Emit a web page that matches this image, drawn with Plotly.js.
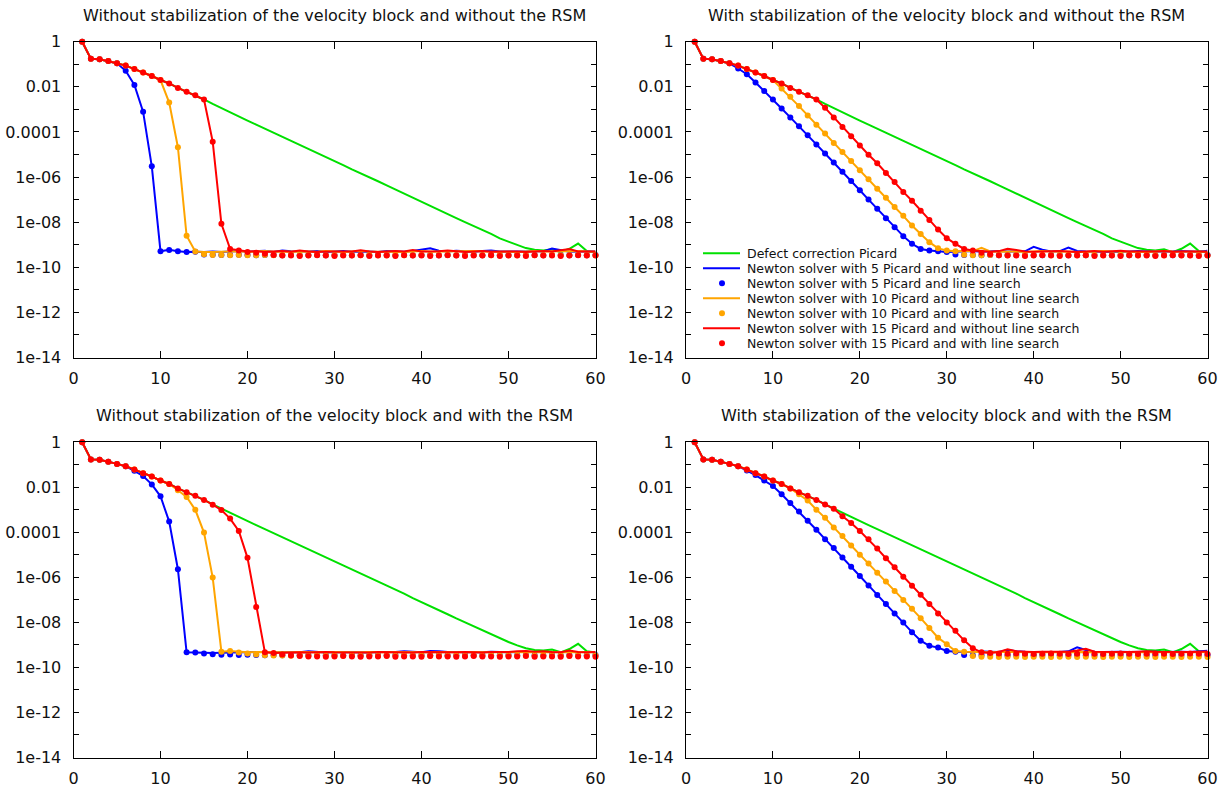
<!DOCTYPE html>
<html>
<head>
<meta charset="utf-8">
<script src="https://cdn.plot.ly/plotly-3.0.1.min.js"></script>
<style>html,body{margin:0;padding:0;background:#fff;}#chart{width:1230px;height:787px;}</style>
</head>
<body>
<div id="chart"></div>
<script>
// ---------- data ----------
const iterations = [1,2,3,4,5,6,7,8,9,10,11,12,13,14,15,16,17,18,19,20,21,22,23,24,25,26,27,28,29,30,
  31,32,33,34,35,36,37,38,39,40,41,42,43,44,45,46,47,48,49,50,51,52,53,54,55,56,57,58,59,60];

const panelTitles = [
  "Without stabilization of the velocity block and without the RSM",
  "With stabilization of the velocity block and without the RSM",
  "Without stabilization of the velocity block and with the RSM",
  "With stabilization of the velocity block and with the RSM"
];

const seriesNames = [
  "Defect correction Picard",
  "Newton solver with 5 Picard and without line search",
  "Newton solver with 5 Picard and line search",
  "Newton solver with 10 Picard and without line search",
  "Newton solver with 10 Picard and with line search",
  "Newton solver with 15 Picard and without line search",
  "Newton solver with 15 Picard and with line search"
];

const xTickValues = [0,10,20,30,40,50,60];
const yTickValues = [1,1e-1,1e-2,1e-3,1e-4,1e-5,1e-6,1e-7,1e-8,1e-9,1e-10,1e-11,1e-12,1e-13,1e-14];
const yTickLabels = ["1","","0.01","","0.0001","","1e-06","","1e-08","","1e-10","","1e-12","","1e-14"];

// Defect correction Picard (same in all panels)
const picard = [1,0.174,0.166,0.138,0.110,0.087,0.0617,0.0427,0.0302,0.020,
  0.0141,8.9e-3,6.0e-3,4.2e-3,2.75e-3,1.74e-3,1.12e-3,7.4e-4,4.9e-4,3.2e-4,
  2.1e-4,1.4e-4,9.3e-5,6.2e-5,4.1e-5,2.7e-5,1.8e-5,1.2e-5,7.8e-6,5.1e-6,
  3.4e-6,2.2e-6,1.5e-6,9.8e-7,6.5e-7,4.3e-7,2.8e-7,1.9e-7,1.2e-7,8.1e-8,
  5.4e-8,3.5e-8,2.3e-8,1.5e-8,1.0e-8,6.8e-9,4.5e-9,3.0e-9,1.9e-9,1.35e-9,
  9.5e-10,7.1e-10,6.0e-10,5.6e-10,6.3e-10,4.7e-10,6.6e-10,1.12e-9,5.2e-10,4.6e-10];

// ---- Panel 1: without stabilization, without RSM ----
const p1Blue = picard.slice(0,5).concat([5.1e-2,1.2e-2,7.9e-4,3.0e-6,5.1e-10,5.9e-10,5.1e-10,4.7e-10,
  4.9e-10,4.7e-10,5.0e-10,4.8e-10,5.0e-10,5.2e-10,4.9e-10,5.0e-10,5.4e-10,4.8e-10,
  5.6e-10,5.1e-10,4.9e-10,5.0e-10,5.2e-10,4.8e-10,5.0e-10,5.3e-10,4.9e-10,5.1e-10,
  5.0e-10,4.8e-10,5.2e-10,5.0e-10,4.9e-10,5.3e-10,6.2e-10,7.0e-10,5.4e-10,5.0e-10,
  5.4e-10,5.1e-10,4.9e-10,5.2e-10,5.5e-10,5.0e-10,4.9e-10,5.1e-10,5.0e-10,5.3e-10,
  5.0e-10,6.8e-10,5.6e-10,4.9e-10,5.0e-10,5.1e-10,5.0e-10]);
const p1BlueLS = p1Blue.slice(0,14).concat([3.7e-10,3.6e-10,3.5e-10,3.5e-10,3.6e-10,3.5e-10,3.4e-10,3.5e-10,3.5e-10,3.4e-10,
  3.5e-10,3.4e-10,3.5e-10,3.5e-10,3.4e-10,3.5e-10,3.5e-10,3.4e-10,3.5e-10,3.4e-10,
  3.5e-10,3.5e-10,3.4e-10,3.5e-10,3.4e-10,3.5e-10,3.5e-10,3.4e-10,3.5e-10,3.4e-10,
  3.5e-10,3.5e-10,3.4e-10,3.5e-10,3.4e-10,3.5e-10,3.5e-10,3.4e-10,3.5e-10,3.4e-10,
  3.5e-10,3.5e-10,3.4e-10,3.5e-10,3.4e-10,3.5e-10]);
const p1Orange = picard.slice(0,10).concat([2.0e-3,2.1e-5,2.5e-9,5.0e-10,4.7e-10,
  4.8e-10,5.0e-10,4.9e-10,5.1e-10,4.8e-10,5.0e-10,5.2e-10,4.9e-10,5.0e-10,4.8e-10,
  5.1e-10,5.0e-10,4.9e-10,5.2e-10,5.0e-10,4.8e-10,5.0e-10,5.3e-10,5.0e-10,4.9e-10,
  5.1e-10,5.0e-10,4.8e-10,5.0e-10,5.2e-10,4.9e-10,5.0e-10,5.1e-10,4.9e-10,5.0e-10,
  5.2e-10,5.0e-10,4.9e-10,5.1e-10,5.0e-10,4.8e-10,5.0e-10,5.2e-10,5.0e-10,5.1e-10,
  4.9e-10,5.0e-10,5.3e-10,5.0e-10,4.9e-10]);
const p1OrangeLS = p1Orange.slice(0,14).concat([3.8e-10,3.5e-10,3.5e-10,3.4e-10,3.5e-10,3.4e-10,3.4e-10,3.5e-10,3.4e-10,3.4e-10,
  3.5e-10,3.4e-10,3.4e-10,3.5e-10,3.4e-10,3.4e-10,3.5e-10,3.4e-10,3.4e-10,3.5e-10,
  3.4e-10,3.4e-10,3.5e-10,3.4e-10,3.4e-10,3.5e-10,3.4e-10,3.4e-10,3.5e-10,3.4e-10,
  3.4e-10,3.5e-10,3.4e-10,3.4e-10,3.5e-10,3.4e-10,3.4e-10,3.5e-10,3.4e-10,3.4e-10,
  3.5e-10,3.4e-10,3.4e-10,3.5e-10,3.4e-10,3.4e-10]);
const p1Red = picard.slice(0,15).concat([3.7e-5,8.5e-9,6.5e-10,5.5e-10,
  5.0e-10,5.1e-10,4.8e-10,5.0e-10,5.2e-10,4.9e-10,5.6e-10,5.0e-10,4.8e-10,5.0e-10,
  5.1e-10,4.9e-10,5.0e-10,5.7e-10,5.0e-10,4.8e-10,5.0e-10,5.2e-10,5.0e-10,5.8e-10,
  5.0e-10,4.9e-10,5.1e-10,5.6e-10,5.0e-10,4.8e-10,5.0e-10,5.2e-10,4.9e-10,5.0e-10,
  5.1e-10,5.0e-10,4.8e-10,5.0e-10,5.3e-10,5.0e-10,5.6e-10,6.5e-10,5.0e-10,4.9e-10,
  5.0e-10]);
const p1RedLS = p1Red.slice(0,19).concat([4.7e-10,4.4e-10,4.0e-10,3.5e-10,3.3e-10,3.3e-10,3.2e-10,3.3e-10,3.4e-10,3.3e-10,
  3.2e-10,3.3e-10,3.3e-10,3.4e-10,3.2e-10,3.3e-10,3.3e-10,3.2e-10,3.4e-10,3.3e-10,
  3.3e-10,3.2e-10,3.3e-10,3.4e-10,3.3e-10,3.2e-10,3.3e-10,3.3e-10,3.4e-10,3.2e-10,
  3.3e-10,3.3e-10,3.2e-10,3.4e-10,3.3e-10,3.3e-10,3.2e-10,3.3e-10,3.4e-10,3.3e-10,
  3.3e-10]);

// ---- Panel 2: with stabilization, without RSM ----
const p2Blue = picard.slice(0,5).concat([6.5e-2,3.6e-2,1.55e-2,6.6e-3,2.75e-3,1.1e-3,4.4e-4,1.8e-4,7.1e-5,2.8e-5,
  1.1e-5,4.4e-6,1.7e-6,6.6e-7,2.6e-7,1.0e-7,3.9e-8,1.5e-8,6.0e-9,2.4e-9,
  1.1e-9,6.5e-10,5.5e-10,5.1e-10,4.7e-10,
  4.9e-10,5.0e-10,5.2e-10,4.9e-10,5.0e-10,5.3e-10,5.0e-10,4.9e-10,5.1e-10,8.0e-10,
  6.0e-10,5.0e-10,5.2e-10,7.5e-10,5.3e-10,5.0e-10,4.9e-10,5.1e-10,5.0e-10,4.8e-10,
  5.0e-10,5.2e-10,5.0e-10,4.9e-10,5.1e-10,5.0e-10,5.3e-10,5.0e-10,4.9e-10,5.4e-10]);
const p2BlueLS = p2Blue.slice(0,30).concat([3.7e-10,3.5e-10,3.5e-10,3.4e-10,3.5e-10,3.4e-10,3.5e-10,3.5e-10,3.4e-10,3.5e-10,
  3.4e-10,3.5e-10,3.5e-10,3.4e-10,3.5e-10,3.4e-10,3.5e-10,3.5e-10,3.4e-10,3.5e-10,
  3.4e-10,3.5e-10,3.5e-10,3.4e-10,3.5e-10,3.4e-10,3.5e-10,3.5e-10,3.4e-10,3.5e-10]);
const p2Orange = picard.slice(0,10).concat([8.5e-3,3.6e-3,1.4e-3,5.4e-4,2.1e-4,8.5e-5,3.2e-5,1.3e-5,5.1e-6,2.0e-6,
  7.9e-7,3.0e-7,1.2e-7,4.7e-8,1.9e-8,7.1e-9,3.0e-9,1.3e-9,6.9e-10,5.5e-10,5.1e-10,
  5.0e-10,5.2e-10,7.2e-10,5.0e-10,4.9e-10,5.1e-10,5.0e-10,4.8e-10,5.0e-10,5.2e-10,
  5.0e-10,4.9e-10,5.1e-10,5.0e-10,4.8e-10,5.0e-10,5.2e-10,5.0e-10,4.9e-10,5.1e-10,
  5.0e-10,4.8e-10,5.0e-10,5.2e-10,5.0e-10,4.9e-10,5.1e-10,5.0e-10,4.9e-10]);
const p2OrangeLS = p2Orange.slice(0,31).concat([3.6e-10,3.4e-10,3.4e-10,3.5e-10,3.4e-10,3.4e-10,3.5e-10,3.4e-10,3.4e-10,3.5e-10,
  3.4e-10,3.4e-10,3.5e-10,3.4e-10,3.4e-10,3.5e-10,3.4e-10,3.4e-10,3.5e-10,3.4e-10,
  3.4e-10,3.5e-10,3.4e-10,3.4e-10,3.5e-10,3.4e-10,3.4e-10,3.5e-10,3.4e-10]);
const p2Red = picard.slice(0,15).concat([1.17e-3,4.4e-4,1.66e-4,6.5e-5,2.5e-5,9.8e-6,4.1e-6,1.5e-6,6.0e-7,2.2e-7,
  8.9e-8,3.2e-8,1.26e-8,4.7e-9,1.95e-9,1.1e-9,6.5e-10,5.5e-10,
  5.0e-10,4.9e-10,5.2e-10,6.6e-10,5.8e-10,5.0e-10,4.9e-10,5.1e-10,5.0e-10,5.3e-10,
  5.0e-10,4.8e-10,5.0e-10,5.2e-10,4.9e-10,5.0e-10,5.4e-10,5.0e-10,4.9e-10,5.1e-10,
  5.0e-10,5.2e-10,4.9e-10,5.0e-10,5.1e-10,5.0e-10,4.9e-10]);
const p2RedLS = p2Red.slice(0,33).concat([4.4e-10,3.8e-10,3.4e-10,3.3e-10,3.3e-10,3.2e-10,3.3e-10,3.4e-10,3.3e-10,3.2e-10,
  3.3e-10,3.3e-10,3.4e-10,3.2e-10,3.3e-10,3.3e-10,3.2e-10,3.4e-10,3.3e-10,3.3e-10,
  3.2e-10,3.3e-10,3.4e-10,3.3e-10,3.3e-10,3.2e-10,3.3e-10]);

// ---- Panel 3: without stabilization, with RSM ----
const p3Blue = picard.slice(0,6).concat([5.4e-2,3.2e-2,1.35e-2,4.0e-3,3.0e-4,2.3e-6,4.7e-10,4.6e-10,4.2e-10,
  4.4e-10,4.5e-10,4.6e-10,4.8e-10,4.6e-10,4.7e-10,4.9e-10,4.7e-10,4.6e-10,4.8e-10,
  4.7e-10,5.3e-10,4.8e-10,4.6e-10,4.8e-10,4.7e-10,4.9e-10,4.7e-10,4.6e-10,4.8e-10,
  4.7e-10,4.9e-10,5.2e-10,4.8e-10,4.7e-10,5.4e-10,5.3e-10,4.8e-10,4.7e-10,4.9e-10,
  4.8e-10,4.7e-10,5.0e-10,4.8e-10,4.7e-10,4.9e-10,4.8e-10,4.7e-10,4.8e-10,4.9e-10,
  4.7e-10,4.8e-10,4.9e-10,4.7e-10,4.8e-10]);
const p3BlueLS = p3Blue.slice(0,15).concat([3.9e-10,3.7e-10,3.8e-10,3.6e-10,3.7e-10,3.6e-10,3.5e-10,3.6e-10,3.5e-10,3.6e-10,
  3.5e-10,3.6e-10,3.5e-10,3.5e-10,3.6e-10,3.5e-10,3.6e-10,3.5e-10,3.5e-10,3.6e-10,
  3.5e-10,3.6e-10,3.5e-10,3.5e-10,3.6e-10,3.5e-10,3.6e-10,3.5e-10,3.5e-10,3.6e-10,
  3.5e-10,3.6e-10,3.5e-10,3.5e-10,3.6e-10,3.5e-10,3.6e-10,3.5e-10,3.5e-10,3.6e-10,
  3.5e-10,3.6e-10,3.5e-10,3.5e-10,3.6e-10]);
const p3Orange = picard.slice(0,11).concat([7.4e-3,3.7e-3,1.0e-3,9.8e-5,9.8e-7,5.0e-10,5.4e-10,
  4.9e-10,4.7e-10,4.8e-10,4.7e-10,4.6e-10,4.8e-10,4.7e-10,4.8e-10,4.6e-10,4.7e-10,
  4.8e-10,4.7e-10,4.6e-10,4.8e-10,4.7e-10,4.8e-10,4.6e-10,4.7e-10,4.8e-10,4.7e-10,
  4.6e-10,4.8e-10,4.7e-10,4.8e-10,4.6e-10,4.7e-10,4.8e-10,4.7e-10,4.6e-10,4.8e-10,
  4.7e-10,4.8e-10,4.6e-10,4.7e-10,4.8e-10,4.7e-10,4.6e-10,4.8e-10,4.7e-10,4.8e-10,
  4.6e-10,4.7e-10]);
const p3OrangeLS = p3Orange.slice(0,18).concat([4.6e-10,4.2e-10,3.8e-10,3.5e-10,3.4e-10,3.4e-10,3.3e-10,3.4e-10,3.3e-10,3.4e-10,
  3.3e-10,3.4e-10,3.3e-10,3.4e-10,3.3e-10,3.4e-10,3.3e-10,3.4e-10,3.3e-10,3.4e-10,
  3.3e-10,3.4e-10,3.3e-10,3.4e-10,3.3e-10,3.4e-10,3.3e-10,3.4e-10,3.3e-10,3.4e-10,
  3.3e-10,3.4e-10,3.3e-10,3.4e-10,3.3e-10,3.4e-10,3.3e-10,3.4e-10,3.3e-10,3.4e-10,
  3.3e-10,3.4e-10]);
const p3Red = picard.slice(0,15).concat([1.7e-3,9.8e-4,4.1e-4,1.15e-4,7.4e-6,4.9e-8,4.7e-10,4.4e-10,
  4.6e-10,4.8e-10,4.7e-10,4.6e-10,4.8e-10,4.9e-10,4.7e-10,4.6e-10,4.8e-10,4.7e-10,
  4.6e-10,4.8e-10,4.7e-10,4.9e-10,4.7e-10,4.6e-10,4.8e-10,4.7e-10,4.6e-10,4.8e-10,
  4.7e-10,4.9e-10,4.7e-10,4.6e-10,4.8e-10,4.7e-10,4.9e-10,5.2e-10,5.4e-10,5.0e-10,
  5.3e-10,4.8e-10,4.7e-10,5.6e-10,4.8e-10,4.7e-10,4.8e-10]);
const p3RedLS = p3Red.slice(0,23).concat([3.8e-10,3.4e-10,3.2e-10,3.1e-10,3.1e-10,3.0e-10,3.1e-10,3.2e-10,3.1e-10,3.0e-10,
  3.1e-10,3.1e-10,3.2e-10,3.0e-10,3.1e-10,3.1e-10,3.0e-10,3.2e-10,3.1e-10,3.1e-10,
  3.0e-10,3.1e-10,3.2e-10,3.1e-10,3.1e-10,3.0e-10,3.1e-10,3.1e-10,3.2e-10,3.0e-10,
  3.1e-10,3.1e-10,3.0e-10,3.2e-10,3.1e-10,3.1e-10,3.0e-10]);

// ---- Panel 4: with stabilization, with RSM ----
const p4Blue = picard.slice(0,6).concat([5.6e-2,3.5e-2,2.0e-2,1.15e-2,4.9e-3,2.0e-3,8.5e-4,3.3e-4,1.3e-4,5.0e-5,
  2.0e-5,7.6e-6,3.0e-6,1.15e-6,4.4e-7,1.66e-7,6.6e-8,2.5e-8,9.8e-9,3.7e-9,
  1.55e-9,9.1e-10,7.6e-10,5.4e-10,5.0e-10,
  4.8e-10,4.9e-10,5.1e-10,5.0e-10,4.9e-10,6.0e-10,5.2e-10,5.0e-10,4.9e-10,5.1e-10,
  5.0e-10,4.9e-10,5.2e-10,7.8e-10,6.0e-10,5.0e-10,4.9e-10,5.1e-10,5.0e-10,4.9e-10,
  5.0e-10,5.2e-10,5.0e-10,4.9e-10,5.1e-10,5.0e-10,4.9e-10,5.2e-10,5.5e-10]);
const p4BlueLS = p4Blue.slice(0,31).concat([3.6e-10,3.5e-10,3.6e-10,3.7e-10,3.6e-10,3.5e-10,3.6e-10,3.6e-10,3.5e-10,3.6e-10,
  3.6e-10,3.5e-10,3.6e-10,3.6e-10,3.5e-10,3.6e-10,3.6e-10,3.5e-10,3.6e-10,3.6e-10,
  3.5e-10,3.6e-10,3.6e-10,3.5e-10,3.6e-10,3.6e-10,3.5e-10,3.6e-10,3.6e-10]);
const p4Orange = picard.slice(0,12).concat([4.9e-3,2.6e-3,1.02e-3,4.4e-4,1.66e-4,6.9e-5,2.6e-5,1.02e-5,4.1e-6,1.6e-6,
  6.5e-7,2.5e-7,9.8e-8,4.0e-8,1.55e-8,5.6e-9,2.1e-9,1.07e-9,5.4e-10,5.0e-10,
  4.8e-10,4.9e-10,4.7e-10,4.8e-10,4.9e-10,4.8e-10,4.7e-10,4.8e-10,4.9e-10,4.8e-10,
  4.7e-10,4.8e-10,4.9e-10,4.8e-10,4.7e-10,4.8e-10,4.9e-10,4.8e-10,4.7e-10,4.8e-10,
  4.9e-10,4.8e-10,4.7e-10,4.8e-10,4.9e-10,4.8e-10,4.7e-10,4.8e-10]);
const p4OrangeLS = p4Orange.slice(0,32).concat([3.2e-10,3.0e-10,3.0e-10,2.9e-10,3.0e-10,3.0e-10,2.9e-10,3.0e-10,3.0e-10,2.9e-10,
  3.0e-10,3.0e-10,2.9e-10,3.0e-10,3.0e-10,2.9e-10,3.0e-10,3.0e-10,2.9e-10,3.0e-10,
  3.0e-10,2.9e-10,3.0e-10,3.0e-10,2.9e-10,3.0e-10,3.0e-10,2.9e-10]);
const p4Red = picard.slice(0,17).concat([5.2e-4,2.6e-4,1.15e-4,4.9e-5,1.9e-5,7.1e-6,2.8e-6,1.07e-6,4.3e-7,1.7e-7,
  6.5e-8,2.5e-8,1.0e-8,4.3e-9,1.6e-9,7.1e-10,4.7e-10,4.4e-10,
  4.9e-10,6.4e-10,5.2e-10,5.0e-10,4.8e-10,5.0e-10,5.1e-10,4.9e-10,5.0e-10,5.6e-10,
  6.8e-10,5.0e-10,4.9e-10,5.1e-10,5.0e-10,4.8e-10,5.0e-10,5.2e-10,5.0e-10,4.9e-10,
  5.1e-10,5.0e-10,4.8e-10,5.0e-10,5.1e-10]);
const p4RedLS = p4Red.slice(0,35).concat([4.2e-10,4.1e-10,4.2e-10,4.1e-10,4.0e-10,4.1e-10,4.2e-10,4.1e-10,4.0e-10,4.1e-10,
  4.2e-10,4.1e-10,4.0e-10,4.1e-10,4.2e-10,4.1e-10,4.0e-10,4.1e-10,4.2e-10,4.1e-10,
  4.0e-10,4.1e-10,4.2e-10,4.1e-10,4.0e-10]);

const panelSeries = [
  [p1Blue, p1BlueLS, p1Orange, p1OrangeLS, p1Red, p1RedLS],
  [p2Blue, p2BlueLS, p2Orange, p2OrangeLS, p2Red, p2RedLS],
  [p3Blue, p3BlueLS, p3Orange, p3OrangeLS, p3Red, p3RedLS],
  [p4Blue, p4BlueLS, p4Orange, p4OrangeLS, p4Red, p4RedLS]
];

// ---------- styling ----------
const W = 1230, H = 787;
const FONT = "DejaVu Sans, Verdana, sans-serif";
const TXT = "#111";
const colors = ["#00e000", "#0000ff", "#0000ff", "#ffa500", "#ffa500", "#ff0000", "#ff0000"];
const isDots = [false, false, true, false, true, false, true];

// pixel frames of the four plot boxes: [left, right, top, bottom]
const frames = [
  [73.5, 595.5, 41.7, 357.5],
  [686, 1207.5, 41.7, 357.5],
  [73.5, 595.5, 442.3, 757.5],
  [686, 1207.5, 442.3, 757.5]
];

const traces = [];
const layout = {
  width: W, height: H,
  margin: {l: 0, r: 0, t: 0, b: 0},
  paper_bgcolor: "#fff", plot_bgcolor: "#fff",
  showlegend: false,
  font: {family: FONT, size: 16, color: TXT},
  annotations: [], shapes: []
};

frames.forEach((f, i) => {
  const n = i + 1;
  const xa = "xaxis" + (n === 1 ? "" : n), ya = "yaxis" + (n === 1 ? "" : n);
  const xr = "x" + (n === 1 ? "" : n), yr = "y" + (n === 1 ? "" : n);
  layout[xa] = {
    domain: [f[0] / W, f[1] / W], anchor: yr, range: [0, 60],
    tickvals: xTickValues, ticks: "inside", ticklen: 7, tickcolor: "#000", tickwidth: 1,
    showline: true, linecolor: "#000", linewidth: 1, mirror: "allticks",
    showgrid: false, zeroline: false, fixedrange: true,
    tickfont: {family: FONT, size: 16, color: TXT}, ticklabelstandoff: 6
  };
  layout[ya] = {
    domain: [1 - f[3] / H, 1 - f[2] / H], anchor: xr, type: "log", range: [-14, 0],
    tickvals: yTickValues, ticktext: yTickLabels, ticks: "inside", ticklen: 5, tickcolor: "#000", tickwidth: 1,
    showline: true, linecolor: "#000", linewidth: 1, mirror: "allticks",
    showgrid: false, zeroline: false, fixedrange: true,
    tickfont: {family: FONT, size: 16, color: TXT}, ticklabelstandoff: 8
  };
  layout.annotations.push({
    text: panelTitles[i], xref: "paper", yref: "paper",
    x: (f[0] + f[1]) / 2 / W, y: 1 - (f[2] - 26.5) / H,
    xanchor: "center", yanchor: "middle", showarrow: false,
    font: {family: FONT, size: 16, color: TXT}
  });
  const all = [picard].concat(panelSeries[i]);
  all.forEach((vals, k) => {
    const t = {
      x: iterations.slice(0, vals.length), y: vals, xaxis: xr, yaxis: yr,
      name: seriesNames[k], cliponaxis: false, hoverinfo: "x+y+name"
    };
    if (isDots[k]) {
      t.mode = "markers";
      t.marker = {color: colors[k], size: 6};
    } else {
      t.mode = "lines";
      t.line = {color: colors[k], width: 2};
    }
    traces.push(t);
  });
});

// legend drawn inside the top-right panel (as in the reference)
seriesNames.forEach((name, k) => {
  const yPx = 253.3 + 15 * k;
  const yP = 1 - yPx / H;
  if (isDots[k]) {
    layout.shapes.push({type: "circle", xref: "paper", yref: "paper",
      x0: 719 / W, x1: 725 / W, y0: 1 - (yPx + 3) / H, y1: 1 - (yPx - 3) / H,
      fillcolor: colors[k], line: {width: 0}});
  } else {
    layout.shapes.push({type: "line", xref: "paper", yref: "paper",
      x0: 703 / W, x1: 740 / W, y0: yP, y1: yP, line: {color: colors[k], width: 2}});
  }
  layout.annotations.push({
    text: name, xref: "paper", yref: "paper", x: 745 / W, y: yP,
    xanchor: "left", yanchor: "middle", showarrow: false,
    font: {family: FONT, size: 12.5, color: TXT}
  });
});

Plotly.newPlot("chart", traces, layout, {displayModeBar: false, staticPlot: true});
</script>
</body>
</html>
